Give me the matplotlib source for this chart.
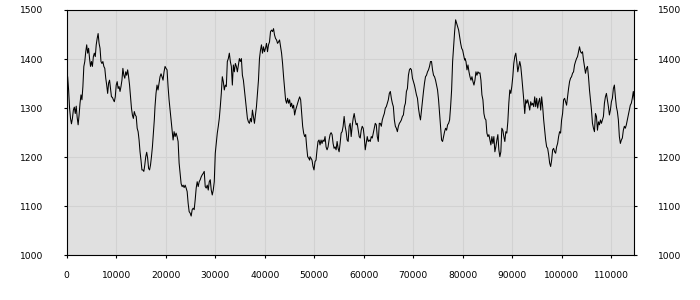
import numpy as np
import matplotlib
matplotlib.use("Agg")
import matplotlib.pyplot as plt

# values, in four consecutive chunks
seg1 = [1367, 1364, 1337, 1300, 1279, 1268, 1279, 1296, 1302, 1289,
        1304, 1281, 1266, 1286, 1310, 1327, 1317, 1344, 1385, 1395,
        1415, 1429, 1412, 1422, 1401, 1385, 1395, 1385, 1405, 1412,
        1405, 1429, 1442, 1452, 1432, 1422, 1395, 1391, 1395, 1385,
        1381, 1361, 1347, 1330, 1351, 1357, 1340, 1323, 1322, 1317,
        1313, 1323, 1347, 1354, 1340, 1344, 1334, 1344, 1357, 1381,
        1367, 1361, 1374, 1367, 1378, 1364, 1347, 1323, 1300, 1286,
        1279, 1293, 1286, 1283, 1259, 1252, 1235, 1211, 1194, 1174,
        1174, 1171, 1184, 1201, 1210, 1198, 1177, 1174, 1184, 1201,
        1221, 1249, 1276]
seg2 = [1303, 1330, 1347, 1337, 1351, 1364, 1370, 1364, 1357, 1374,
        1385, 1381, 1378, 1344, 1317, 1296, 1276, 1255, 1235, 1252,
        1242, 1249, 1242, 1232, 1188, 1167, 1146, 1140, 1143, 1138,
        1143, 1137, 1130, 1106, 1089, 1086, 1080, 1093, 1096, 1093,
        1113, 1137, 1150, 1140, 1150, 1154, 1160, 1164, 1167, 1171,
        1140, 1137, 1143, 1133, 1150, 1154, 1133, 1123, 1133, 1150,
        1208, 1228, 1249, 1263, 1279, 1303, 1330, 1364, 1354, 1337,
        1347, 1344, 1395, 1401, 1412, 1395, 1385, 1347, 1388, 1374,
        1391, 1385, 1374, 1388, 1401, 1395, 1401, 1367, 1357, 1337,
        1317, 1296, 1279, 1272, 1269, 1279, 1272, 1296, 1283, 1269,
        1286, 1303, 1330, 1357, 1401, 1418, 1429, 1412, 1425, 1415,
        1422, 1432, 1415, 1429, 1435, 1456, 1459, 1456, 1462, 1449,
        1442, 1439, 1432, 1435, 1439, 1425, 1412, 1391, 1364, 1340,
        1317, 1310, 1320, 1310, 1317, 1303, 1310, 1300, 1306, 1286,
        1296, 1303, 1310, 1317, 1323, 1317, 1289, 1263, 1249, 1242,
        1246, 1221, 1201, 1198, 1194]
seg3 = [1201, 1198, 1194, 1181, 1174, 1191, 1194, 1215, 1232, 1235,
        1225, 1235, 1228, 1235, 1232, 1242, 1221, 1215, 1221, 1235,
        1246, 1250, 1246, 1228, 1218, 1221, 1215, 1232, 1218, 1211,
        1228, 1249, 1252, 1263, 1283, 1263, 1252, 1235, 1232, 1263,
        1269, 1242, 1263, 1279, 1289, 1276, 1266, 1269, 1255, 1242,
        1239, 1255, 1263, 1259, 1242, 1215, 1228, 1242, 1232, 1235,
        1232, 1242, 1239, 1249, 1259, 1269, 1266, 1242, 1232, 1269,
        1269, 1263, 1276, 1283, 1289, 1300, 1303, 1310, 1317, 1330,
        1334, 1320, 1310, 1303, 1276, 1263, 1259, 1252, 1263, 1269,
        1272, 1276, 1283, 1286, 1303, 1310, 1334, 1340, 1367, 1378,
        1381, 1378, 1361, 1354, 1347, 1337, 1327, 1320, 1300, 1286,
        1276, 1296, 1317, 1334, 1351, 1364, 1367, 1374, 1378, 1385,
        1395, 1395, 1378, 1367, 1364, 1357, 1347, 1337, 1317, 1289,
        1263, 1235, 1232, 1242, 1252, 1259, 1255, 1266, 1269, 1276,
        1303, 1337, 1395, 1425, 1456, 1480, 1473, 1466, 1459, 1446,
        1432, 1422, 1418, 1408, 1398]
seg4 = [1401, 1395, 1378, 1388, 1374, 1364, 1357, 1364, 1354, 1347,
        1357, 1374, 1367, 1374, 1371, 1372, 1357, 1327, 1317, 1289,
        1279, 1276, 1249, 1242, 1246, 1235, 1225, 1242, 1228, 1242,
        1211, 1221, 1235, 1246, 1215, 1201, 1211, 1259, 1255, 1242,
        1232, 1252, 1249, 1272, 1310, 1337, 1330, 1344, 1364, 1391,
        1405, 1412, 1395, 1374, 1385, 1395, 1385, 1364, 1340, 1317,
        1289, 1317, 1310, 1317, 1306, 1296, 1313, 1306, 1310, 1303,
        1323, 1303, 1320, 1300, 1313, 1320, 1296, 1323, 1303, 1276,
        1255, 1235, 1221, 1218, 1205, 1188, 1181, 1194, 1215, 1218,
        1211, 1208, 1221, 1228, 1242, 1252, 1249, 1276, 1289, 1317,
        1320, 1313, 1306, 1323, 1340, 1354, 1361, 1364, 1371, 1374,
        1388, 1395, 1401, 1405, 1415, 1425, 1415, 1412, 1415, 1398,
        1385, 1371, 1381, 1385, 1364, 1337, 1317, 1296, 1269, 1259,
        1252, 1289, 1283, 1255, 1272, 1266, 1276, 1269, 1276, 1283,
        1310, 1323, 1330, 1317, 1303, 1286, 1296, 1313, 1320, 1340,
        1347, 1323, 1303, 1293, 1276, 1242, 1228, 1235, 1239, 1255,
        1263, 1259, 1266, 1276, 1286, 1296, 1306, 1310, 1320, 1334,
        1317]
# sample ranges covered by each chunk
seg_ranges = [(0, 17700), (17840, 49090), (49150, 80400), (80465, 114670)]

x_max = 114670
y_ticks = [1000, 1100, 1200, 1300, 1400, 1500]
x_ticks = list(range(0, 110001, 10000))

xs, ys = [], []
for seg, (a, b) in zip([seg1, seg2, seg3, seg4], seg_ranges):
    xs.append(np.linspace(a, b, len(seg)))
    ys.append(np.array(seg, dtype=float))
x = np.concatenate(xs)
y = np.concatenate(ys)

plt.rcParams['font.family'] = ['DejaVu Sans']

fig = plt.figure(figsize=(7, 3), dpi=100)
ax = fig.add_axes([66.7 / 700, 44.7 / 300, 567.6 / 700, 245.3 / 300])
ax.set_facecolor('#e0e0e0')
ax.plot(x, y, color='black', lw=0.75)

ax.set_xlim(0, x_max)
ax.set_ylim(1000, 1500)
ax.set_xticks(x_ticks)
ax.set_yticks(y_ticks)
ax.grid(True, color='#d2d2d2', lw=0.8)
ax.set_axisbelow(True)

for s in ax.spines.values():
    s.set_color('black')
    s.set_linewidth(0.8)

ax.tick_params(axis='both', labelsize=6.6, length=2, width=0.8, color='black')
ax.tick_params(axis='y', which='both', left=True, right=True,
               labelleft=True, labelright=True, pad=14.8)
ax.tick_params(axis='x', pad=9.6)

fig.savefig('out.png', dpi=100, facecolor='white')
